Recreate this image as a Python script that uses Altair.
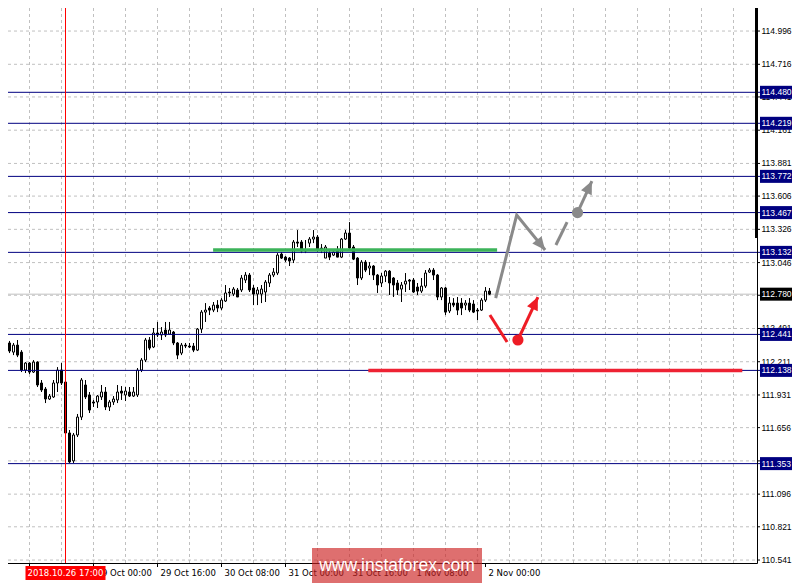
import altair as alt
import pandas as pd

# ---------------- data (USD/JPY H1 candles) ----------------
opens = [112.369, 112.335, 112.369, 112.292, 112.351, 112.292, 112.141, 112.200, 112.124, 112.208,
         112.032, 111.981, 111.897, 111.914, 112.032, 112.141, 112.040, 111.611, 111.376, 111.594,
         111.745, 112.015, 111.931, 111.872, 111.872, 111.914, 111.956, 111.830, 111.872, 111.889,
         111.964, 111.931, 111.956, 111.922, 111.931, 112.141, 112.225, 112.394, 112.335, 112.453,
         112.436, 112.478, 112.444, 112.461, 112.369, 112.284, 112.351, 112.343, 112.343, 112.309,
         112.486, 112.629, 112.663, 112.646, 112.688, 112.663, 112.722, 112.798, 112.781, 112.815,
         112.815, 112.899, 112.941, 112.832, 112.781, 112.781, 112.798, 112.874, 112.941, 112.958,
         113.118, 113.092, 113.084, 113.067, 113.219, 113.219, 113.152, 113.210, 113.244, 113.261,
         113.168, 113.084, 113.126, 113.109, 113.143, 113.092, 113.244, 113.295, 113.177, 113.084,
         112.916, 113.050, 113.000, 113.017, 112.941, 112.874, 112.933, 112.974, 112.916, 112.874,
         112.823, 112.865, 112.899, 112.899, 112.840, 112.806, 112.848, 112.966, 112.983, 112.941,
         112.756, 112.832, 112.638, 112.705, 112.705, 112.705, 112.688, 112.705, 112.697, 112.646,
         112.646, 112.730, 112.806]
highs = [112.411, 112.411, 112.386, 112.369, 112.394, 112.309, 112.208, 112.208, 112.225, 112.215,
         112.057, 111.998, 111.939, 112.057, 112.166, 112.200, 112.057, 111.636, 111.611, 111.771,
         112.074, 112.057, 111.956, 111.889, 111.931, 112.015, 111.998, 111.889, 111.922, 112.015,
         112.006, 111.998, 111.998, 111.998, 112.158, 112.242, 112.411, 112.419, 112.495, 112.546,
         112.503, 112.546, 112.546, 112.470, 112.377, 112.369, 112.369, 112.369, 112.369, 112.495,
         112.646, 112.705, 112.680, 112.714, 112.730, 112.747, 112.857, 112.832, 112.840, 112.832,
         112.941, 112.966, 112.958, 112.857, 112.840, 112.857, 112.899, 112.958, 113.000, 113.126,
         113.135, 113.101, 113.092, 113.236, 113.320, 113.236, 113.236, 113.261, 113.320, 113.278,
         113.202, 113.194, 113.143, 113.143, 113.185, 113.253, 113.320, 113.387, 113.194, 113.092,
         113.067, 113.067, 113.050, 113.025, 112.950, 112.958, 112.983, 112.983, 112.924, 112.899,
         112.882, 112.958, 112.907, 112.916, 112.874, 112.916, 112.983, 113.000, 113.000, 112.950,
         112.840, 112.840, 112.756, 112.747, 112.756, 112.747, 112.730, 112.747, 112.730, 112.663,
         112.747, 112.840, 112.832]
lows = [112.351, 112.326, 112.284, 112.267, 112.250, 112.124, 112.116, 112.107, 112.116, 111.998,
        111.956, 111.863, 111.889, 111.906, 111.956, 112.015, 111.552, 111.358, 111.358, 111.577,
        111.720, 111.897, 111.779, 111.830, 111.821, 111.889, 111.804, 111.796, 111.847, 111.863,
        111.889, 111.880, 111.914, 111.914, 111.914, 112.124, 112.208, 112.309, 112.326, 112.419,
        112.394, 112.419, 112.436, 112.351, 112.233, 112.267, 112.326, 112.326, 112.292, 112.301,
        112.453, 112.546, 112.604, 112.629, 112.629, 112.646, 112.714, 112.756, 112.764, 112.764,
        112.798, 112.874, 112.798, 112.688, 112.688, 112.705, 112.714, 112.840, 112.924, 112.941,
        113.076, 113.050, 113.017, 113.042, 113.177, 113.126, 113.126, 113.177, 113.210, 113.135,
        113.126, 113.084, 113.067, 113.101, 113.092, 113.084, 113.236, 113.152, 113.067, 112.857,
        112.899, 112.966, 112.941, 112.899, 112.790, 112.840, 112.882, 112.773, 112.756, 112.773,
        112.714, 112.798, 112.815, 112.790, 112.773, 112.790, 112.832, 112.958, 112.899, 112.730,
        112.730, 112.604, 112.621, 112.671, 112.604, 112.604, 112.646, 112.629, 112.621, 112.562,
        112.638, 112.714, 112.773]
closes = [112.402, 112.402, 112.301, 112.351, 112.267, 112.141, 112.200, 112.124, 112.208, 112.015,
          111.973, 111.897, 111.922, 112.032, 112.141, 112.032, 111.611, 111.367, 111.594, 111.745,
          112.057, 111.914, 111.804, 111.863, 111.922, 111.956, 111.830, 111.872, 111.897, 111.956,
          111.947, 111.964, 111.922, 111.956, 112.141, 112.225, 112.394, 112.326, 112.453, 112.436,
          112.461, 112.436, 112.478, 112.369, 112.267, 112.351, 112.343, 112.335, 112.309, 112.486,
          112.629, 112.646, 112.646, 112.688, 112.663, 112.730, 112.790, 112.790, 112.823, 112.756,
          112.916, 112.941, 112.815, 112.781, 112.815, 112.823, 112.882, 112.941, 112.966, 113.109,
          113.084, 113.067, 113.059, 113.219, 113.210, 113.143, 113.143, 113.244, 113.261, 113.152,
          113.160, 113.177, 113.092, 113.135, 113.092, 113.244, 113.295, 113.168, 113.075, 112.916,
          113.050, 112.983, 113.017, 112.941, 112.857, 112.933, 112.974, 112.874, 112.857, 112.815,
          112.857, 112.890, 112.890, 112.798, 112.806, 112.848, 112.958, 112.983, 112.941, 112.756,
          112.832, 112.629, 112.705, 112.688, 112.646, 112.663, 112.705, 112.646, 112.629, 112.638,
          112.730, 112.806, 112.780]

# horizontal levels drawn on the chart (navy) and their axis boxes
level_prices = [114.480, 114.219, 113.772, 113.467, 113.132, 112.441, 112.138, 111.353]
bid_price = 112.780

# right axis ticks (price grid)
axis_ticks = [114.996, 114.716, 114.441, 114.161, 113.881, 113.606, 113.326, 113.046, 112.771,
              112.491, 112.211, 111.931, 111.656, 111.376, 111.096, 110.821, 110.541]

# time axis (bar index of each label) and vertical grid (bar index)
tick_bars = [7, 23, 39, 55, 71, 87, 103, 121]
label_bars = [23, 39, 55, 71, 87, 103, 121]
label_texts = ["29 Oct 00:00", "29 Oct 16:00", "30 Oct 08:00",
               "31 Oct 00:00", "31 Oct 16:00", "1 Nov 08:00", "2 Nov 00:00"]
grid_bars = list(range(7, 188, 8))
cross_bar = 16
cross_text = "2018.10.26 17:00"

# support / resistance segments
green_bars = [52.9, 123.9]
green_price = 113.152
red_bars = [91.7, 185.2]
red_price = 112.138

# forecast arrows: (group, bar, price)
arrow_groups = ["g1", "g1", "g1", "g2", "g2", "g3", "g3", "r1", "r1", "r2", "r2"]
arrow_bars = [123.55, 128.8, 135.9, 138.6, 141.4, 144.0, 147.6, 122.1, 126.4, 129.1, 134.1]
arrow_prices = [112.747, 113.446, 113.152, 113.194, 113.387, 113.467, 113.733, 112.604, 112.377, 112.394, 112.756]
arrow_colors = ["#8a8a8a"] * 7 + ["#ee1c25"] * 4
head_bars = [135.9, 147.6, 134.1]
head_prices = [113.152, 113.733, 112.756]
head_angles = [141, 25, 25]
head_colors = ["#8a8a8a", "#8a8a8a", "#ee1c25"]
dot_bars = [144.0, 129.1]
dot_prices = [113.467, 112.394]
dot_colors = ["#8a8a8a", "#ee1c25"]

# ---------------- frames ----------------
n = len(opens)
bars_df = pd.DataFrame({"bar": list(range(n)), "open": opens, "high": highs,
                        "low": lows, "close": closes})
bars_df["dir"] = ["up" if c >= o else "down" for o, c in zip(opens, closes)]

levels_df = pd.DataFrame({"price": level_prices, "txt": [f"{p:.3f}" for p in level_prices]})
bid_df = pd.DataFrame({"price": [bid_price], "txt": [f"{bid_price:.3f}"]})
yt_df = pd.DataFrame({"price": axis_ticks, "txt": [f"{p:.3f}" for p in axis_ticks]})
xg_df = pd.DataFrame({"bar": grid_bars})
xt_df = pd.DataFrame({"bar": tick_bars})
xlab_df = pd.DataFrame({"bar": label_bars, "txt": label_texts})
cross_df = pd.DataFrame({"bar": [cross_bar], "txt": [cross_text]})
seg_df = pd.DataFrame({"b1": [green_bars[0], red_bars[0]], "b2": [green_bars[1], red_bars[1]],
                       "price": [green_price, red_price], "color": ["#3cb35a", "#ee2233"]})
arr_df = pd.DataFrame({"grp": arrow_groups, "bar": arrow_bars, "price": arrow_prices,
                       "color": arrow_colors, "ord": list(range(len(arrow_bars)))})
head_df = pd.DataFrame({"bar": head_bars, "price": head_prices, "angle": head_angles, "color": head_colors})
dot_df = pd.DataFrame({"bar": dot_bars, "price": dot_prices, "color": dot_colors})
one_df = pd.DataFrame({"t": ["www.instaforex.com"]})

# plot area (price/time) inside a 784 x 575 canvas (fits the page without shrinking)
W, H = 749, 555
TW, TH = 784, 575
xs = alt.Scale(domain=[1.625, 188.875], range=[0, W], nice=False, zero=False, padding=0)
ys = alt.Scale(domain=[110.516, 115.190], range=[H, 0], nice=False, zero=False, padding=0)
FONT = "DejaVu Sans"
YFONT = "Liberation Sans"
FS = 8.5

X = lambda f: alt.X(f, scale=xs, axis=None)
Y = lambda f: alt.Y(f, scale=ys, axis=None)

# grid
hgrid = alt.Chart(yt_df).mark_rule(color="#c0c0c0", strokeDash=[3, 3], strokeWidth=1).encode(
    y=Y("price:Q"), x=alt.value(0), x2=alt.value(W))
vgrid = alt.Chart(xg_df).mark_rule(color="#c0c0c0", strokeDash=[3, 3], strokeWidth=1).encode(
    x=X("bar:Q"), y=alt.value(0), y2=alt.value(H))

# frame (axis lines) and the thick scale marker at the top of the price axis
ydomain = alt.Chart(one_df).mark_rule(color="#000000", strokeWidth=1).encode(
    x=alt.value(W + 0.5), y=alt.value(0), y2=alt.value(H + 0.5))
xdomain = alt.Chart(one_df).mark_rule(color="#000000", strokeWidth=1).encode(
    y=alt.value(H + 0.5), x=alt.value(0), x2=alt.value(W + 0.5))
ymarker = alt.Chart(one_df).mark_rect(color="#000000").encode(
    x=alt.value(W - 2), x2=alt.value(W + 1), y=alt.value(0), y2=alt.value(230))

wicks = alt.Chart(bars_df).mark_rule(color="#000000", strokeWidth=1).encode(
    x=X("bar:Q"), y=Y("low:Q"), y2="high:Q")

bodies = alt.Chart(bars_df).mark_bar(size=2, stroke="#000000", strokeWidth=1).encode(
    x=X("bar:Q"), y=Y("open:Q"), y2="close:Q",
    fill=alt.Fill("dir:N", scale=alt.Scale(domain=["up", "down"], range=["#ffffff", "#000000"]), legend=None))

bidline = alt.Chart(bid_df).mark_rule(color="#c0c0c0", strokeWidth=1).encode(
    y=Y("price:Q"), x=alt.value(0), x2=alt.value(W))

levels = alt.Chart(levels_df).mark_rule(color="#000080", strokeWidth=1).encode(
    y=Y("price:Q"), x=alt.value(0), x2=alt.value(752))

segs = alt.Chart(seg_df).mark_rule(strokeWidth=3.5).encode(
    x=X("b1:Q"), x2="b2:Q", y=Y("price:Q"), color=alt.Color("color:N", scale=None))

cross = alt.Chart(cross_df).mark_rule(color="#ff0000", strokeWidth=1).encode(
    x=X("bar:Q"), y=alt.value(0), y2=alt.value(H))

arrows = alt.Chart(arr_df).mark_line(strokeWidth=3, strokeCap="butt").encode(
    x=X("bar:Q"), y=Y("price:Q"), detail="grp:N", order="ord:Q",
    color=alt.Color("color:N", scale=None))

heads = alt.Chart(head_df).mark_point(shape="M0,0L-0.5,1.1L0.5,1.1Z", filled=True, size=560, opacity=1).encode(
    x=X("bar:Q"), y=Y("price:Q"), angle=alt.Angle("angle:Q", scale=None),
    color=alt.Color("color:N", scale=None))

dots = alt.Chart(dot_df).mark_circle(size=125, opacity=1).encode(
    x=X("bar:Q"), y=Y("price:Q"), color=alt.Color("color:N", scale=None))

# right price axis: ticks + labels + highlighted boxes
yticks = alt.Chart(yt_df).mark_rule(color="#000000").encode(
    y=Y("price:Q"), x=alt.value(W), x2=alt.value(W + 3))
ylabs = alt.Chart(yt_df).mark_text(align="left", baseline="middle", font=YFONT, fontSize=FS,
                                   color="#000000").encode(y=Y("price:Q"), x=alt.value(W + 4.5), text="txt:N")
lvl_box = alt.Chart(levels_df).mark_rect(color="#000080", yOffset=-6.5, y2Offset=6.5).encode(
    y=Y("price:Q"), y2="price:Q", x=alt.value(752), x2=alt.value(TW))
lvl_txt = alt.Chart(levels_df).mark_text(align="left", baseline="middle", font=YFONT, fontSize=FS,
                                         color="#ffffff").encode(y=Y("price:Q"), x=alt.value(753.5), text="txt:N")
bid_box = alt.Chart(bid_df).mark_rect(color="#000000", yOffset=-6.5, y2Offset=6.5).encode(
    y=Y("price:Q"), y2="price:Q", x=alt.value(752), x2=alt.value(TW))
bid_txt = alt.Chart(bid_df).mark_text(align="left", baseline="middle", font=YFONT, fontSize=FS,
                                      color="#ffffff").encode(y=Y("price:Q"), x=alt.value(753.5), text="txt:N")

# time axis labels and ticks
xticks = alt.Chart(xt_df).mark_rule(color="#000000").encode(
    x=X("bar:Q"), y=alt.value(H), y2=alt.value(H + 4))
xlabs = alt.Chart(xlab_df).mark_text(align="left", baseline="middle", dx=3, font=FONT, fontSize=FS,
                                     color="#000000").encode(x=X("bar:Q"), y=alt.value(H + 10), text="txt:N")
cross_box = alt.Chart(cross_df).mark_rect(color="#ff0000", xOffset=-40, x2Offset=40).encode(
    x=X("bar:Q"), x2="bar:Q", y=alt.value(H + 3), y2=alt.value(H + 17))
cross_txt = alt.Chart(cross_df).mark_text(align="center", baseline="middle", font=FONT, fontSize=FS,
                                          color="#ffffff").encode(x=X("bar:Q"), y=alt.value(H + 10), text="txt:N")

# watermark
wm_box = alt.Chart(one_df).mark_rect(color="#cc2222", opacity=0.65).encode(
    x=alt.value(304), x2=alt.value(474), y=alt.value(540), y2=alt.value(TH))
wm_txt = alt.Chart(one_df).mark_text(
    align="center", baseline="middle", font="Liberation Sans", fontSize=17.5, color="#ffffff").encode(
    x=alt.value(389), y=alt.value(558), text="t:N")

chart = alt.layer(
    hgrid, vgrid, bidline, wicks, bodies, levels, segs, cross, arrows, heads, dots,
    ydomain, xdomain, ymarker, yticks, ylabs, lvl_box, lvl_txt, bid_box, bid_txt,
    xticks, xlabs, cross_box, cross_txt, wm_box, wm_txt
).properties(
    width=TW, height=TH, padding={"left": 0, "top": 0, "right": 0, "bottom": 0},
    autosize=alt.AutoSizeParams(type="none")
).configure(font=FONT, view=alt.ViewConfig(stroke=None))

chart.save("out.html", embed_options={"renderer": "svg", "actions": False})
